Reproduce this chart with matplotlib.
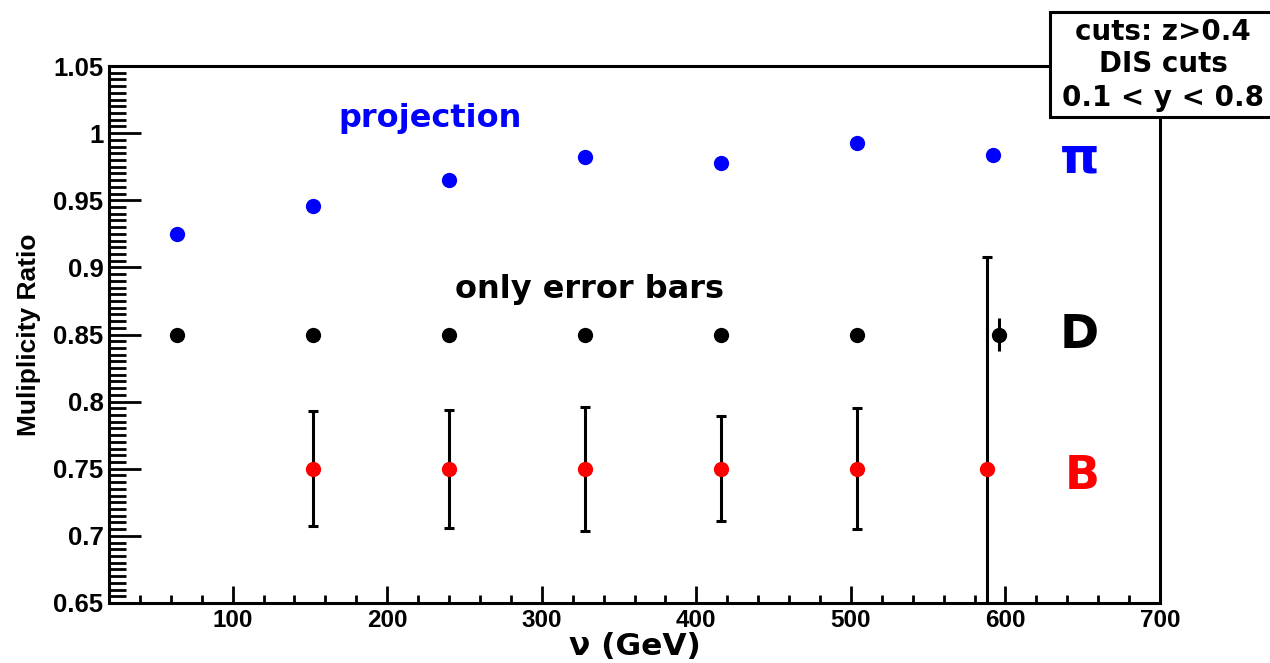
import matplotlib
matplotlib.use("Agg")
import matplotlib.pyplot as plt
from matplotlib.patches import Rectangle
from matplotlib.ticker import MultipleLocator, FixedLocator

# nu bins (GeV) and multiplicity ratios per hadron species
pi_nu = [64, 152, 240, 328, 416, 504, 592]
pi_ratio = [0.925, 0.946, 0.965, 0.982, 0.978, 0.993, 0.984]

d_nu = [64, 152, 240, 328, 416, 504, 596]
d_ratio = [0.85, 0.85, 0.85, 0.85, 0.85, 0.85, 0.85]
d_err = [0.0, 0.0, 0.0, 0.0, 0.0, 0.0, 0.012]

b_nu = [152, 240, 328, 416, 504, 588]
b_ratio = [0.75, 0.75, 0.75, 0.75, 0.75, 0.75]
b_err = [0.043, 0.044, 0.046, 0.039, 0.045, 0.158]

x_ticks = [100, 200, 300, 400, 500, 600, 700]
y_ticks = [0.65, 0.7, 0.75, 0.8, 0.85, 0.9, 0.95, 1.0, 1.05]
y_tick_labels = ["0.65", "0.7", "0.75", "0.8", "0.85", "0.9", "0.95", "1", "1.05"]

cut_lines = ["cuts: z>0.4", "DIS cuts", "0.1 < y < 0.8"]

BLUE = "#0000ff"
RED = "#ff0000"
TICK_FAMILY = "Liberation Sans"
TEXT_FONT = dict(family="DejaVu Sans", weight="bold")

fig = plt.figure(figsize=(12.7, 6.63), dpi=100)
ax = fig.add_axes([109 / 1270, 1 - 603 / 663, (1160 - 109) / 1270, (603 - 66) / 663])

ax.set_xlim(20, 700)
ax.set_ylim(0.65, 1.05)

# pion projection points
ax.plot(pi_nu, pi_ratio, "o", color=BLUE, markersize=11, markeredgewidth=0, zorder=3)

# D: markers with error bars
ax.errorbar(d_nu, d_ratio, yerr=d_err, fmt="o", color="black", markersize=11,
            markeredgewidth=0, ecolor="black", elinewidth=2.2, capsize=3.5,
            capthick=2.2, zorder=3)

# B: error bars drawn first, red markers on top
ax.errorbar(b_nu, b_ratio, yerr=b_err, fmt="none", ecolor="black",
            elinewidth=2.2, capsize=3.5, capthick=2.2, zorder=2)
ax.plot(b_nu, b_ratio, "o", color=RED, markersize=11, markeredgewidth=0, zorder=4)

# spines: ROOT-like frame
for side in ("left", "bottom", "top", "right"):
    ax.spines[side].set_linewidth(2.2)

ax.xaxis.set_major_locator(FixedLocator(x_ticks))
ax.xaxis.set_minor_locator(MultipleLocator(20))
ax.yaxis.set_major_locator(FixedLocator(y_ticks))
ax.yaxis.set_minor_locator(MultipleLocator(0.005))
ax.set_yticklabels(y_tick_labels)
ax.set_xticklabels([str(t) for t in x_ticks])

ax.tick_params(axis="y", which="major", direction="in", length=23, width=2.0,
               left=True, right=False, pad=4)
ax.tick_params(axis="y", which="minor", direction="in", length=12, width=2.0,
               left=True, right=False)
ax.tick_params(axis="x", which="major", direction="in", length=12.5, width=2.0,
               bottom=True, top=False, pad=4)
ax.tick_params(axis="x", which="minor", direction="in", length=6, width=2.0,
               bottom=True, top=False)
for lab in ax.get_yticklabels():
    lab.set_fontfamily(TICK_FAMILY)
    lab.set_fontweight("bold")
    lab.set_fontsize(18.5)
for lab in ax.get_xticklabels():
    lab.set_fontfamily(TICK_FAMILY)
    lab.set_fontweight("bold")
    lab.set_fontsize(17.5)

ax.set_xlabel("ν (GeV)", fontsize=22.5, labelpad=0, **TEXT_FONT)
ax.set_ylabel("Muliplicity Ratio", fontsize=19, family=TICK_FAMILY,
              weight="bold", labelpad=9)

# in-plot annotations
ax.text(227.5, 1.011, "projection", color=BLUE, fontsize=23, ha="center",
        va="center", **TEXT_FONT)
ax.text(331, 0.8834, "only error bars", color="black", fontsize=23, ha="center",
        va="center", **TEXT_FONT)
ax.text(648, 0.981, "π", color=BLUE, fontsize=36, ha="center", va="center",
        **TEXT_FONT)
ax.text(648, 0.849, "D", color="black", fontsize=34, ha="center", va="center",
        **TEXT_FONT)
ax.text(650, 0.744, "B", color=RED, fontsize=33, ha="center", va="center",
        **TEXT_FONT)

# cuts box in the top-right corner, over the frame
box = Rectangle((1050 / 1270, 1 - 116.7 / 663), 0.3, (116.7 - 11.7) / 663,
                transform=fig.transFigure, facecolor="white", edgecolor="black",
                linewidth=2.2, zorder=10, clip_on=False)
fig.add_artist(box)
for yy, line in zip([32, 64, 98], cut_lines):
    fig.text(1163 / 1270, 1 - yy / 663, line, fontsize=20, ha="center",
             va="center", zorder=11, **TEXT_FONT)

fig.savefig("out.png", dpi=100)
